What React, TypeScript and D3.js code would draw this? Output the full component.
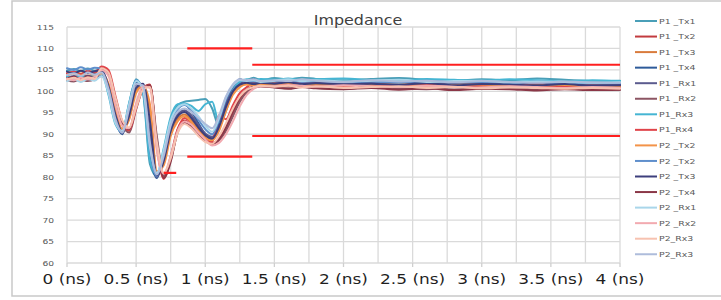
import React from "react";
import * as d3 from "d3";

const T = [0,0.05,0.1,0.15,0.2,0.25,0.3,0.35,0.4,0.45,0.5,0.55,0.6,0.65,0.7,0.75,0.8,0.85,0.9,0.95,1.0,1.05,1.1,1.15,1.2,1.25,1.3,1.35,1.4,1.5,1.6,1.7,1.8,2.0,2.2,2.4,2.6,2.8,3.0,3.2,3.4,3.6,3.8,4.0];

const P1_Tx1 = [104.8,105.2,104.7,105.3,104.8,105.0, 99.8,92.8,90.6,97.2,102.8,99.5,83,80.2,86, 93.5,96.8,97.6,97.8,98,98.2,96,91.8,95.5,99.8,102,102.6,103.2,102.6, 103.1,102.8,103.2,102.9,102.6,102.9,103.1,102.7,102.5,102.8,102.6,103,102.7,102.4,102.5];
const P1_Tx2 = [103.6,103.2,103.8,103.3,103.9,105.6, 104.6,98.2,92.4,90.8,96.4,100.8,101.6,88.5,80, 84.8,91.2,93.2,92,90.2,88.6,88,89,91.5,95,98,100.2,101.2,101.6, 101.6,101.3,101.6,101.5,101.7,101.2,101.4,101.6,101.1,101.3,101.5,101.1,101.2,101,100.9];
const P1_Tx3 = [104.2,104.6,104.1,104.7,104.2,104.5, 101.5,95,90.8,93.8,100.2,101.4,95.5,81,83.2, 90.2,93.6,94.6,93.2,91.2,89.6,89,91.4,96,99.6,101.2,101.9,101.6,101.9, 101.9,101.7,102,101.6,101.5,101.9,101.6,101.8,101.9,101.4,101.6,101.7,101.3,101.5,101.3];
const P1_Tx4 = [104,104.4,103.9,104.5,104,104.3, 100.4,93.2,90,96.2,102.2,100.5,85.5,79.8,85.4, 92.4,96,97,95.4,92.6,90,88.8,92.6,97.8,101,102.8,102.2,102.8,102.1, 102.5,102.3,102.1,102.4,102,102.2,101.9,102.3,102.1,101.8,102.2,101.9,101.7,102,101.6];
const P1_Rx1 = [103.2,103.6,103.1,103.7,103.3,103.6, 101,94,90.2,95,101.6,101,90,80,84.6, 91.6,94.8,95.6,94.4,92.2,90.2,89.4,92,97,100.4,102,102.4,102,102.5, 102.3,102,102.3,102.1,101.8,101.9,102.2,101.7,101.9,102,101.6,101.8,101.5,101.7,101.4];
const P1_Rx2 = [102.6,102.3,102.8,102.4,102.9,104.8, 104,97.6,92.2,90.4,95.8,100.4,101.2,89.5,80.4, 84,90.4,92.6,91.6,89.8,88.4,87.8,88.6,90.8,94.2,97.6,99.8,100.8,101.2, 101,100.7,101.1,100.8,100.6,101,100.7,100.5,100.9,100.6,100.8,100.4,100.7,100.5,100.4];
const P1_Rx3 = [103.4,103,103.6,103.2,103.8,104.2, 99.2,92.4,90.6,97.4,102.6,99.8,84,80.6,86.8, 94,97,97.2,96.6,95.4,97,97.6,92.6,96,100.2,102.2,102.8,102.5,102.9, 102.7,103,102.6,102.8,103,102.6,102.4,102.9,102.7,102.5,102.8,102.6,102.3,102.6,102.4];
const P1_Rx4 = [104.2,104.6,104,104.8,104.4,105.8, 105,99,93,91,96,100.6,101.4,87,79.6, 84.2,91,93.8,92.6,90.6,88.8,88.2,94.5,93.5,96.8,99.6,101,101.8,101.5, 101.8,101.5,101.9,101.6,101.3,101.7,101.4,101.6,101.2,101.5,101.3,101.6,101.1,101.3,101.1];
const P2_Tx2a = [103.8,104.2,103.7,104.3,103.8,104.2, 101.8,95.6,91.2,93.4,99.6,101.2,97,81.4,82.8, 89.6,93,94.2,92.8,90.8,89.2,88.6,90.8,95.4,99.2,101,101.6,101.4,101.7, 101.6,101.9,101.5,101.7,101.4,101.6,101.8,101.3,101.5,101.6,101.2,101.4,101.5,101.1,101.2];
const P2_Tx2b = [105.4,105,105.6,105.1,105.5,105.2, 100,93,90.4,96.8,102.6,100.2,86.5,80.2,85.8, 92.8,95.8,96.8,95.6,93.4,91.2,90,93.4,98.2,101.2,102.6,102.2,102.5,102.1, 102.4,102.7,102.2,102.4,102.1,102.3,102,102.5,102.1,102.2,101.9,102.3,101.8,102,101.9];
const P2_Tx3 = [104.6,104.2,104.8,104.3,104.7,104.9, 101.2,94.6,90.6,94.4,100.8,101.8,93,80.4,83.8, 90.8,94.2,95.2,93.8,91.6,89.8,89,91.8,96.4,100,101.6,102,101.7,102, 101.8,102.1,101.7,101.9,101.6,101.8,101.5,101.9,101.4,101.7,101.6,101.4,101.7,101.3,101.4];
const P2_Tx4 = [103,103.4,102.9,103.5,103.1,105.2, 104.2,98.4,92.8,91.2,96.8,101,101.4,88,79.8, 83.6,90.6,92.8,91.8,90,88.6,87.6,88.8,91.6,95.4,98.6,100.4,101,101.2, 100.9,100.6,101,100.7,100.5,100.8,100.4,100.7,100.3,100.6,100.5,100.2,100.5,100.3,100.4];
const P2_Rx1 = [102.4,102.8,102.2,102.9,102.5,103.6, 99.6,92.6,90.8,97,102.4,100.4,87,81,86.4, 93.2,96.2,97,96,94.2,92,90.6,93.8,98.6,101.4,102.6,102.4,102.6,102.2, 102.5,102.8,102.4,102.6,102.3,102.5,102.7,102.2,102.4,102.5,102.1,102.3,102.2,102,102.1];
const P2_Rx2 = [103,102.6,103.2,102.8,103.4,105, 103.6,97,92,91.4,97.2,101.2,100.8,86,80.8, 85,90.8,93,92.2,90.4,88.8,87.4,88,90,93,96.5,99.2,100.6,101.2, 101.2,101.5,101.3,101.1,101.4,101.2,101,101.3,101.1,100.9,101.2,101,100.8,101,100.8];
const P2_Rx3a = [102.8,103.2,102.6,103.3,102.9,105.4, 104.4,98.6,93.2,91.6,96.2,100.4,101,88.2,81, 84.4,90.2,92.4,91.4,89.6,88.2,87.8,89.6,92.6,96,98.8,100.4,101,101.3, 101.1,101.3,100.9,101.2,100.8,101,101.2,100.8,101,100.7,100.9,100.8,100.6,100.8,100.6];
const P2_Rx3b = [103.8,104.2,103.6,104.4,103.9,104.4, 100.6,93.6,90.4,96,101.8,101.4,88,80.6,85, 92,95.2,96,95.2,93.8,92.4,91.4,94.4,98.8,101.6,102.8,102.6,102.8,102.4, 102.6,102.4,102.8,102.5,102.2,102.6,102.3,102.5,102.1,102.4,102.2,102,102.3,102.1,102];

const seriesNames = ["P1 _Tx1","P1 _Tx2","P1 _Tx3","P1 _Tx4","P1 _Rx1","P1 _Rx2","P1_Rx3","P1_Rx4","P2 _Tx2","P2 _Tx2","P2 _Tx3","P2 _Tx4","P2 _Rx1","P2 _Rx2","P2_Rx3","P2_Rx3"];
const seriesValues = [P1_Tx1,P1_Tx2,P1_Tx3,P1_Tx4,P1_Rx1,P1_Rx2,P1_Rx3,P1_Rx4,P2_Tx2a,P2_Tx2b,P2_Tx3,P2_Tx4,P2_Rx1,P2_Rx2,P2_Rx3a,P2_Rx3b];
const seriesColors = ["#4a9fb8","#c23b3f","#d97b3c","#2e5b9a","#5b5b8e","#8c5563","#45b5d3","#e0444a","#f39349","#5f8fcc","#3d3f7c","#8b3747","#a9d6ea","#f2aab0","#f7c2b0","#aebcdb"];

const limitStart = [0.87, 1.34, 1.34, 0.87, 0.70];
const limitEnd = [1.34, 4.0, 4.0, 1.34, 0.79];
const limitValue = [110, 106.2, 89.6, 84.8, 81];

const yTicks = [60,65,70,75,80,85,90,95,100,105,110,115];
const xGrid = [0,0.25,0.5,0.75,1,1.25,1.5,1.75,2,2.25,2.5,2.75,3,3.25,3.5,3.75,4];
const xTicks = [0,0.5,1,1.5,2,2.5,3,3.5,4];
const xTickLabels = ["0 (ns)","0.5 (ns)","1 (ns)","1.5 (ns)","2 (ns)","2.5 (ns)","3 (ns)","3.5 (ns)","4 (ns)"];
const title = "Impedance";

export default function App() {
  const W = 721, H = 300;
  const x = d3.scaleLinear().domain([0, 4]).range([67, 620]);
  const y = d3.scaleLinear().domain([60, 115]).range([263, 27]);
  const line = d3.line<number>().x((_, i) => x(T[i])).y(d => y(d)).curve(d3.curveMonotoneX);
  const font = "'DejaVu Sans', Verdana, sans-serif";
  const legendY = (i: number) => 21 + i * 15.55;
  return (
    <svg width={W} height={H} style={{ position: "absolute", left: 0, top: 0, background: "#fff" }} fontFamily={font}>
      <rect x={0} y={0} width={W} height={H} fill="#fff" />
      <rect x={12} y={1} width={718} height={295} fill="none" stroke="#c9c9c9" strokeWidth={1.5} />
      {yTicks.map(v => (
        <line key={"h" + v} x1={x(0)} x2={x(4)} y1={y(v)} y2={y(v)} stroke="#dadada" strokeWidth={1.3} />
      ))}
      {xGrid.map(t => (
        <line key={"v" + t} x1={x(t)} x2={x(t)} y1={y(115)} y2={y(60)} stroke="#dadada" strokeWidth={1.3} />
      ))}
      {xTicks.map(t => (
        <line key={"t" + t} x1={x(t)} x2={x(t)} y1={y(60)} y2={y(60) + 4} stroke="#cfcfcf" strokeWidth={1.3} />
      ))}
      {yTicks.map(v => (
        <text key={"yl" + v} transform={`translate(54,${y(v)}) scale(1.3,1)`} textAnchor="end" dominantBaseline="central" fontSize={7} fill="#5a5a5a">{v}</text>
      ))}
      {xTicks.map((t, i) => (
        <text key={"xl" + t} transform={`translate(${x(t)},284) scale(1.17,1)`} textAnchor="middle" fontSize={14.5} fill="#1f1f1f">{xTickLabels[i]}</text>
      ))}
      <text transform={`translate(358,25) scale(1.18,1)`} textAnchor="middle" fontSize={13.5} fill="#404040">{title}</text>
      <g fill="none" strokeLinejoin="round" strokeLinecap="round">
        {seriesValues.map((vals, i) => (
          <path key={"s" + i} d={line(vals) || ""} stroke={seriesColors[i]} strokeWidth={2} />
        ))}
      </g>
      {limitValue.map((v, i) => (
        <line key={"lim" + i} x1={x(limitStart[i])} x2={x(limitEnd[i])} y1={y(v)} y2={y(v)} stroke="#ff1f1f" strokeWidth={2.2} />
      ))}
      {seriesNames.map((n, i) => (
        <g key={"lg" + i}>
          <line x1={635} x2={657} y1={legendY(i)} y2={legendY(i)} stroke={seriesColors[i]} strokeWidth={2} />
          <text transform={`translate(659,${legendY(i)}) scale(1.3,1)`} dominantBaseline="central" fontSize={7.2} fill="#5a5a5a">{n}</text>
        </g>
      ))}
    </svg>
  );
}
